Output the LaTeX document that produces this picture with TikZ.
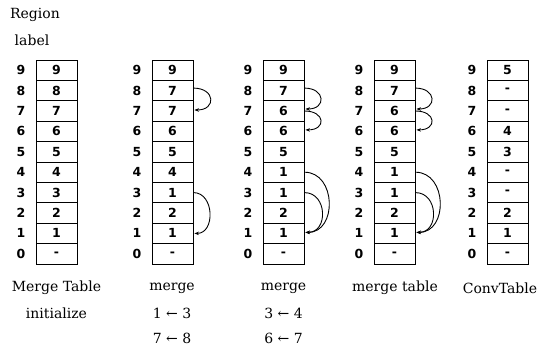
\documentclass[tikz,border=0pt]{standalone}
\usepackage{fontspec}
\setmainfont{DejaVu Serif}
\newfontfamily\cellfont{DejaVu Sans}
\usetikzlibrary{arrows.meta,calc}
\begin{document}
\begin{tikzpicture}[x=1pt,y=-1pt,
  cellbox/.style={draw,line width=0.9pt,minimum width=41pt,minimum height=20.4pt,inner sep=0pt,
    font=\cellfont\bfseries\fontsize{12.5}{12.5}\selectfont},
  rowlab/.style={font=\cellfont\bfseries\fontsize{12.5}{12.5}\selectfont,inner sep=0pt},
  caption/.style={font=\fontsize{14}{16}\selectfont,inner sep=0pt},
  link/.style={line width=0.9pt,-{Stealth[length=4.5pt,width=3.5pt]}}]
\useasboundingbox (0,0) rectangle (548,345);

\node[caption] (region) at (35,15) {Region};
\node[caption] (label) at (32,40) {label};

\foreach \c/\x/\vals in {1/36/{9,8,7,6,5,4,3,2,1,-},
                         2/152/{9,7,7,6,5,4,1,2,1,-},
                         3/263/{9,7,6,6,5,1,1,2,1,-},
                         4/374/{9,7,6,6,5,1,1,2,1,-},
                         5/487/{5,-,-,4,3,-,-,2,1,-}}{
  \foreach \v [count=\i] in \vals {
    \pgfmathtruncatemacro\k{10-\i}
    \node[cellbox] (c\c r\k) at ({\x+20.5},{60+(\i-0.5)*20.4}) {\v};
    \node[rowlab] (l\c r\k) at ({\x-15},{60+(\i-0.5)*20.4}) {\k};
  }
}

% captions
\node[caption] (t1a) at (56.5,288) {Merge Table};
\node[caption] (t1b) at (56.5,313) {initialize};
\node[caption] (t2a) at (172,288) {merge};
\node[caption] (t2b) at (172,313) {1 ← 3};
\node[caption] (t2c) at (172,338) {7 ← 8};
\node[caption] (t3a) at (283.5,288) {merge};
\node[caption] (t3b) at (283.5,313) {3 ← 4};
\node[caption] (t3c) at (283.5,338) {6 ← 7};
\node[caption] (t4a) at (395,288) {merge table};
\node[caption] (t5a) at (500,288) {ConvTable};

% arrows column 2
\draw[link] ([yshift=2.5pt]c2r8.east) .. controls +(22,0) and +(22,0) .. ([yshift=1pt,xshift=1pt]c2r7.east);
\draw[link] (c2r3.east) .. controls +(21,0) and +(21,0) .. ([xshift=1pt]c2r1.east);

% arrows columns 3 and 4
\foreach \c in {3,4}{
  \draw[link] ([yshift=2.5pt]c\c r8.east) .. controls +(21,0) and +(21,0) .. ([yshift=2pt,xshift=1pt]c\c r7.east);
  \draw[link] (c\c r7.east) .. controls +(21,0) and +(21,0) .. ([yshift=1.5pt,xshift=1pt]c\c r6.east);
  \draw[link] (c\c r4.east) .. controls +(32,0) and +(32,0) .. ([yshift=1pt,xshift=1pt]c\c r1.east);
  \draw[link] (c\c r3.east) .. controls +(23,0) and +(23,0) .. ([yshift=1pt,xshift=1pt]c\c r1.east);
}
\end{tikzpicture}
\end{document}
